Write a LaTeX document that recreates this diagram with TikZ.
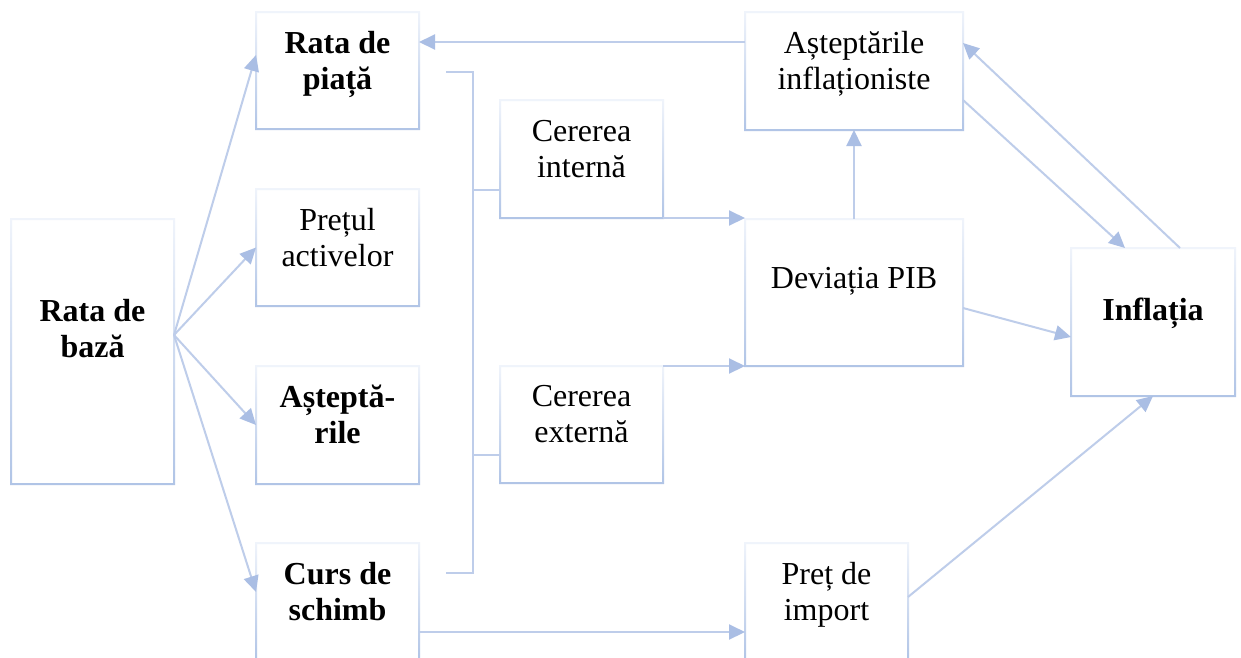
\documentclass[tikz,border=0pt]{standalone}
\usepackage{fontspec}
\setmainfont{Liberation Serif}
\usetikzlibrary{arrows.meta}
\definecolor{lc}{RGB}{190,205,234}
\definecolor{tipc}{RGB}{170,190,228}
\definecolor{btop}{RGB}{240,244,251}
\definecolor{bbot}{RGB}{176,196,230}
\begin{document}
\begin{tikzpicture}[x=1pt,y=-1pt,
  box/.style={draw=none,inner sep=0pt,outer sep=0pt},
  lbl/.style={font=\fontsize{32}{36}\selectfont,align=center,inner sep=0pt,anchor=north,text=black},
  bl/.style={lbl,font=\fontsize{32}{36}\selectfont\bfseries},
  conn/.style={draw=lc,line width=2pt},
  arr/.style={conn,-{Triangle[length=16pt,width=15pt,color=tipc]}},
]
\useasboundingbox (0,0) rectangle (1241,657);
\fill[white] (0,0) rectangle (1241,657);
\clip (0,0) rectangle (1241,657);
% boxes
\node[box,minimum width=163pt,minimum height=265pt] (base) at (92.5,351.5) {};
\node[box,minimum width=163pt,minimum height=117pt] (piata) at (337.5,70.5) {};
\node[box,minimum width=163pt,minimum height=117pt] (pret) at (337.5,247.5) {};
\node[box,minimum width=163pt,minimum height=118pt] (astept) at (337.5,425) {};
\node[box,minimum width=163pt,minimum height=117pt] (curs) at (337.5,601.5) {};
\node[box,minimum width=163pt,minimum height=118pt] (cint) at (581.5,159) {};
\node[box,minimum width=163pt,minimum height=117pt] (cext) at (581.5,424.5) {};
\node[box,minimum width=218pt,minimum height=118pt] (ainf) at (854,71) {};
\node[box,minimum width=218pt,minimum height=147pt] (dev) at (854,292.5) {};
\node[box,minimum width=163pt,minimum height=117pt] (import) at (826.5,601.5) {};
\node[box,minimum width=164pt,minimum height=148pt] (infl) at (1153,322) {};
\foreach \n in {base,piata,pret,astept,curs,cint,cext,ainf,dev,import,infl}{
  \shade[even odd rule,top color=btop,bottom color=bbot]
    ([shift={(-1pt,1pt)}]\n.north west) rectangle ([shift={(1pt,-1pt)}]\n.south east)
    ([shift={(1pt,-1pt)}]\n.north west) rectangle ([shift={(-1pt,1pt)}]\n.south east);
}
% fan from base
\draw[arr] ([yshift=16.5pt]base.east) -- ([yshift=15.5pt]piata.west);
\draw[arr] ([yshift=16.5pt]base.east) -- (pret.west);
\draw[arr] ([yshift=16.5pt]base.east) -- (astept.west);
\draw[arr] ([yshift=16.5pt]base.east) -- ([yshift=9.5pt]curs.west);
% bracket
\coordinate (brtop) at ([xshift=27pt,yshift=-1.5pt]piata.east);
\coordinate (brbot) at ([xshift=27pt,yshift=28.5pt]curs.east);
\draw[conn] (brtop) -- ++(27,0) |- (brbot);
\draw[conn] ([yshift=-31pt]cint.west) -- ++(-27,0);
\draw[conn] ([yshift=-30.5pt]cext.west) -- ++(-27,0);
% demand to GDP gap
\draw[arr] (cint.south east) -- (cint.south east -| dev.west);
\draw[arr] (cext.north east) -- (cext.north east -| dev.west);
% gap to expectations
\draw[arr] (dev.north) -- (ainf.south);
% expectations to market rate
\draw[arr] ([yshift=29pt]ainf.west) -- ([yshift=29pt]ainf.west -| piata.east);
% expectations <-> inflation
\draw[arr] ([yshift=-29pt]ainf.east) -- ([xshift=-28pt]infl.north);
\draw[arr] ([xshift=27pt]infl.north) -- ([yshift=28pt]ainf.east);
% gap to inflation
\draw[arr] ([yshift=-15.5pt]dev.east) -- ([yshift=-15pt]infl.west);
% exchange rate to import price
\draw[arr] ([yshift=-30.5pt]curs.east) -- ([yshift=-30.5pt]curs.east -| import.west);
% import price to inflation
\draw[arr] ([yshift=4.5pt]import.east) -- (infl.south);
% texts
\node[bl] (tbase) at (92.5,299) {Rata de\\bază};
\node[bl] (tpiata) at (337.5,31) {Rata de\\piață};
\node[lbl] (tpret) at (337.5,208) {Prețul\\activelor};
\node[bl] (tastept) at (337.5,385) {Așteptă-\\rile};
\node[bl] (tcurs) at (337.5,562) {Curs de\\schimb};
\node[lbl] (tcint) at (581.5,120) {Cererea\\internă};
\node[lbl] (tcext) at (581.5,385) {Cererea\\externă};
\node[lbl] (tainf) at (854,31) {Așteptările\\inflaționiste};
\node[lbl] (tdev) at (854,267) {Deviația PIB};
\node[lbl] (timport) at (826.5,562) {Preț de\\import};
\node[bl] (tinfl) at (1153,298) {Inflația};
\end{tikzpicture}
\end{document}
